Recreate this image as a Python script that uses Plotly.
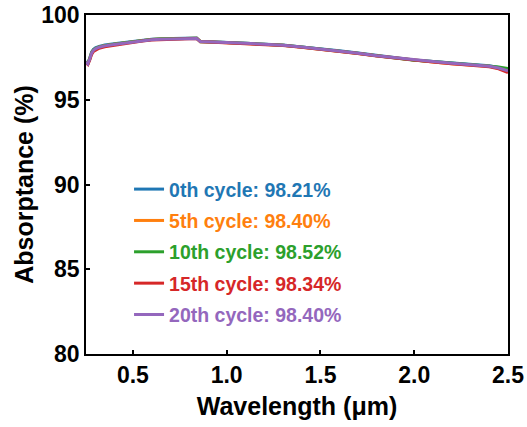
import plotly.graph_objects as go

wavelength = [0.25, 0.26, 0.27, 0.28, 0.29, 0.30, 0.32, 0.35, 0.40, 0.45, 0.50, 0.55,
              0.60, 0.65, 0.70, 0.75, 0.80, 0.84, 0.86, 0.90, 1.00, 1.10, 1.20, 1.30,
              1.40, 1.50, 1.60, 1.70, 1.80, 1.90, 2.00, 2.10, 2.20, 2.30, 2.40, 2.45, 2.50]

cycle0 = [97.26, 97.16, 97.46, 97.82, 97.98, 98.06, 98.15, 98.23, 98.31, 98.38, 98.46, 98.52,
          98.57, 98.60, 98.61, 98.62, 98.63, 98.64, 98.45, 98.43, 98.39, 98.34, 98.29, 98.23,
          98.12, 98.02, 97.89, 97.76, 97.62, 97.49, 97.35, 97.26, 97.16, 97.09, 97.00, 96.90, 96.74]
cycle5 = [97.22, 97.12, 97.41, 97.76, 97.93, 98.01, 98.11, 98.19, 98.27, 98.35, 98.43, 98.49,
          98.55, 98.58, 98.60, 98.61, 98.62, 98.63, 98.44, 98.42, 98.37, 98.32, 98.27, 98.21,
          98.10, 97.99, 97.87, 97.73, 97.59, 97.46, 97.32, 97.23, 97.12, 97.05, 96.97, 96.86, 96.72]
cycle10 = [97.23, 97.13, 97.42, 97.77, 97.94, 98.02, 98.12, 98.19, 98.27, 98.35, 98.43, 98.49,
           98.55, 98.58, 98.60, 98.61, 98.62, 98.63, 98.42, 98.42, 98.38, 98.33, 98.28, 98.22,
           98.11, 98.00, 97.88, 97.74, 97.60, 97.47, 97.33, 97.25, 97.16, 97.10, 97.02, 96.94, 96.84]
cycle15 = [97.18, 97.08, 97.34, 97.68, 97.85, 97.93, 98.04, 98.12, 98.21, 98.30, 98.39, 98.46,
           98.52, 98.55, 98.57, 98.58, 98.60, 98.61, 98.42, 98.41, 98.36, 98.31, 98.26, 98.20,
           98.09, 97.98, 97.86, 97.73, 97.58, 97.45, 97.31, 97.22, 97.12, 97.04, 96.94, 96.82, 96.60]
cycle20 = [97.22, 97.12, 97.40, 97.75, 97.92, 98.00, 98.10, 98.18, 98.26, 98.34, 98.42, 98.48,
           98.54, 98.57, 98.59, 98.60, 98.61, 98.62, 98.43, 98.42, 98.38, 98.33, 98.28, 98.22,
           98.11, 98.00, 97.88, 97.75, 97.60, 97.48, 97.33, 97.25, 97.15, 97.08, 96.98, 96.87, 96.70]

labels = ["0th cycle: 98.21%", "5th cycle: 98.40%", "10th cycle: 98.52%",
          "15th cycle: 98.34%", "20th cycle: 98.40%"]
colors = ["#1f77b4", "#ff7f0e", "#2ca02c", "#d62728", "#9467bd"]
series = [cycle0, cycle5, cycle10, cycle15, cycle20]

x_ticks = [0.5, 1.0, 1.5, 2.0, 2.5]
y_ticks = [80, 85, 90, 95, 100]

fig = go.Figure()
for i, (vals, lab, col) in enumerate(zip(series, labels, colors)):
    fig.add_trace(go.Scatter(
        x=wavelength, y=vals, mode="lines",
        line=dict(color=col, width=3),
        name=f'<span style="color:{col}">{lab}</span>',
        legendgroup=f"g{i}",
    ))

axis_common = dict(
    showline=True, linecolor="black", linewidth=1.5, mirror=True,
    ticks="inside", ticklen=4, tickwidth=1.5, tickcolor="black",
    showgrid=False, zeroline=False, automargin=False,
    tickfont=dict(family="Liberation Sans", size=23, color="black", weight="bold"),
)
title_font = dict(family="Liberation Sans", size=25, color="black", weight="bold")

fig.update_layout(
    width=527, height=427,
    margin=dict(l=86, r=19, t=15, b=73),
    paper_bgcolor="white", plot_bgcolor="white",
    font=dict(family="Liberation Sans", color="black"),
    xaxis=dict(range=[0.25, 2.5], tickvals=x_ticks, tickformat=".1f",
               title=dict(text="Wavelength (μm)", standoff=10, font=title_font),
               **axis_common),
    yaxis=dict(range=[80, 100], tickvals=y_ticks,
               title=dict(text="Absorptance (%)", standoff=1, font=title_font),
               **axis_common),
    legend=dict(x=0.102, y=0.543, xanchor="left", yanchor="top",
                bgcolor="rgba(0,0,0,0)", traceorder="grouped", tracegroupgap=3,
                font=dict(family="Liberation Sans", size=19.5, weight="bold")),
)

fig.write_html("out.html")
